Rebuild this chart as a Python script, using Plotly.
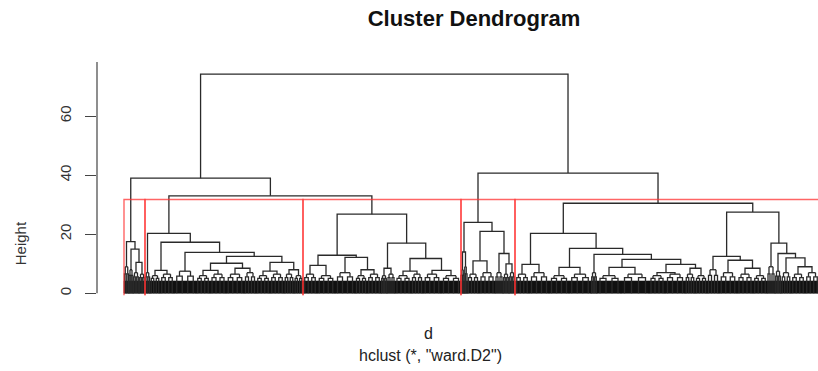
import plotly.graph_objects as go

# ---------------- data ----------------
# twig = (number_of_leaves, merge_height)  -> a small, dense leaf group
# node = [merge_height, left_child, right_child]
cluster_A = [17.5, (5, 9.0), [15.0, (4, 8.0), [10.5, (6, 7.0), (6, 6.5)]]]

cluster_B = [20.3, (5, 7.0),
             [17.3, [7.8, (10, 6.0), (14, 6.5)],
              [13.9, (22, 7.5),
               [12.5, [10.2, [7.8, (14, 6.0), (16, 6.5)], [8.5, (18, 6.5), (12, 7.0)]],
                [10.5, [7.5, (14, 6.0), (14, 6.5)], [8.0, (10, 6.5), (9, 6.0)]]]]]]

cluster_C = [26.8,
             [12.9, [9.5, (14, 6.5), (18, 6.0)], [12.2, (20, 7.0), [8.0, (12, 6.0), (14, 6.5)]]],
             [17.0, [8.5, (6, 6.0), (8, 6.5)],
              [11.8, [7.5, (16, 6.0), (12, 6.5)], [7.8, (18, 6.5), (20, 6.0)]]]]

cluster_D = [24.0, [14.0, (3, 8.0), (3, 9.0)],
             [21.0, [11.0, (12, 6.5), (16, 7.0)], [13.5, (8, 7.0), [10.0, (6, 6.5), (6, 7.0)]]]]

cluster_E = [30.5,
             [20.3, [9.8, (14, 6.5), (20, 7.0)],
              [15.2, [8.8, (20, 6.0), (22, 6.5)],
               [13.2, (6, 7.0),
                [11.5, [8.8, (24, 6.0), (28, 6.5)],
                 [9.8, [7.0, (16, 6.0), (20, 6.5)], [8.5, (10, 6.5), (12, 6.0)]]]]]],
             [27.5, [12.5, (12, 8.0), [11.2, (18, 7.0), [8.5, (16, 6.5), (14, 6.0)]]],
              [17.0, (8, 9.0), [13.5, (6, 7.5), [12.0, (10, 7.0), [9.0, (14, 6.5), (14, 7.0)]]]]]]

upper_merge_heights = [74.2, 39.0, 33.0, 40.7]   # root, left, left-right, right
clusters = [cluster_A, cluster_B, cluster_C, cluster_D, cluster_E]
k_clusters = 5

y_tick_values = [0, 20, 40, 60]
y_tick_labels = ["0", "20", "40", "60"]
title_text = "Cluster Dendrogram"
x_label = "d"
sub_label = 'hclust (*, "ward.D2")'
y_label = "Height"

# ---------------- build the tree ----------------
tree = [upper_merge_heights[0],
        [upper_merge_heights[1], cluster_A, [upper_merge_heights[2], cluster_B, cluster_C]],
        [upper_merge_heights[3], cluster_D, cluster_E]]

FUZZ = 4.2  # visual depth of the solid band formed by hundreds of leaf lines

seg_x, seg_y = [], []
fuzz_x, fuzz_y = [], []
all_heights = []


def seg(xs, ys):
    seg_x.extend(xs + [None])
    seg_y.extend(ys + [None])


def layout(node, start):
    """returns (center_x, top_height, end_x)"""
    if isinstance(node, tuple):
        w, h = node
        x1, x2 = start + w / 4.0, start + 3 * w / 4.0
        seg([x1, x2], [h, h])
        # the unreadable leaf lines under each twig, drawn as small loops
        hm = (h + FUZZ) / 2.0
        for xc in (x1, x2):
            d = max(w / 8.0, 0.8)
            seg([xc, xc], [hm, h])
            seg([xc - d, xc - d, xc + d, xc + d], [0, hm, hm, 0])
        fuzz_x.extend([start, start, start + w, start + w, start, None])
        fuzz_y.extend([0, FUZZ, FUZZ, 0, 0, None])
        return start + w / 2.0, h, start + w
    h, left, right = node
    all_heights.append(h)
    lc, lh, mid = layout(left, start)
    rc, rh, end = layout(right, mid)
    seg([lc, lc, rc, rc], [lh, h, h, rh])
    return (lc + rc) / 2.0, h, end


layout(tree, 0)

# cluster boxes (rect.hclust style)
hs = sorted(all_heights, reverse=True)
cut = (hs[k_clusters - 2] + hs[k_clusters - 1]) / 2.0
red_x, red_y = [], []
pos = 0


def count(node):
    if isinstance(node, tuple):
        return node[0]
    return count(node[1]) + count(node[2])


for c in clusters:
    n = count(c)
    red_x.extend([pos, pos, pos + n, pos + n, None])
    red_y.extend([-0.6, cut, cut, -0.6, None])
    pos += n

# ---------------- figure ----------------
W, H = 818, 371
L, T = 97, 57
Y0, Y1 = -8, 80
PXU = 2.95
plot_h = (Y1 - Y0) * PXU
B = H - T - plot_h
X0 = -27
X1 = X0 + (W - L)

fig = go.Figure()
fig.add_trace(go.Scatter(x=fuzz_x, y=fuzz_y, mode="lines", fill="toself",
                         fillcolor="#111111", line=dict(color="#111111", width=0.5),
                         hoverinfo="skip", showlegend=False))
fig.add_trace(go.Scatter(x=seg_x, y=seg_y, mode="lines",
                         line=dict(color="#2a2a2a", width=1.3),
                         hoverinfo="skip", showlegend=False))
fig.add_trace(go.Scatter(x=red_x, y=red_y, mode="lines",
                         line=dict(color="rgba(255,50,50,0.75)", width=1.4),
                         hoverinfo="skip", showlegend=False))


def px_x(p):
    return (p - L) / (W - L)


def px_y(p):
    return (T + plot_h - p) / plot_h


fig.add_shape(type="line", xref="paper", yref="y", x0=0, x1=0, y0=0, y1=78.3,
              line=dict(color="#444444", width=1.2))

font_family = "Liberation Sans, Arial, sans-serif"
fig.update_layout(
    width=W, height=H,
    margin=dict(l=L, r=0, t=T, b=B, pad=0),
    paper_bgcolor="white", plot_bgcolor="white",
    font=dict(family=font_family, color="#222222"),
    title=dict(text="<b>" + title_text + "</b>", x=474 / W, xanchor="center",
               y=1 - 18 / H, yanchor="middle", font=dict(size=22, color="#111111")),
    xaxis=dict(range=[X0, X1], visible=False, fixedrange=True),
    yaxis=dict(range=[Y0, Y1], showgrid=False, zeroline=False, showline=False,
               tickvals=y_tick_values, ticktext=y_tick_labels, ticks="outside",
               ticklen=11, tickcolor="#444444", tickwidth=1.2, tickangle=-90,
               tickfont=dict(size=15, color="#333333"), ticklabelstandoff=8,
               fixedrange=True),
    annotations=[
        dict(text=y_label, xref="paper", yref="paper", x=px_x(20), y=px_y(243),
             showarrow=False, textangle=-90, font=dict(size=15, color="#333333"),
             xanchor="center", yanchor="middle"),
        dict(text=x_label, xref="paper", yref="paper", x=px_x(428), y=px_y(333),
             showarrow=False, font=dict(size=16, color="#222222"),
             xanchor="center", yanchor="middle"),
        dict(text=sub_label, xref="paper", yref="paper", x=px_x(430), y=px_y(355),
             showarrow=False, font=dict(size=16, color="#222222"),
             xanchor="center", yanchor="middle"),
    ],
)

fig.write_html("out.html")
